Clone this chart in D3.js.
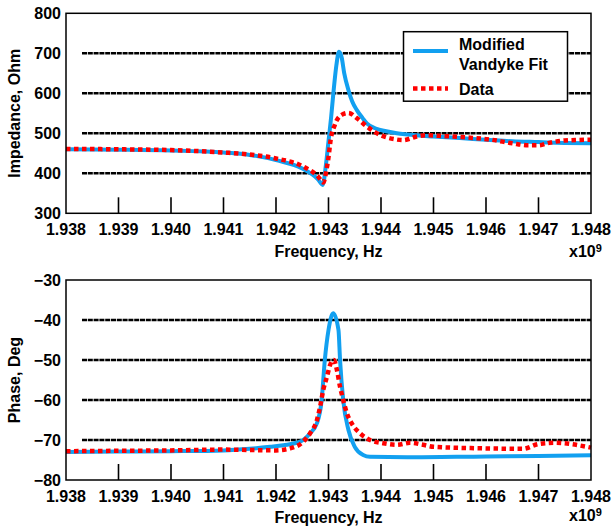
<!DOCTYPE html>
<html><head><meta charset="utf-8">
<script src="https://cdn.jsdelivr.net/npm/d3@7"></script>
<style>body{margin:0;background:#fff}svg{display:block}text{font-family:"Liberation Sans",Arial,sans-serif;font-weight:bold}</style>
</head><body>
<script>
// ---------- data ----------
const xTicks = [1.938,1.939,1.940,1.941,1.942,1.943,1.944,1.945,1.946,1.947,1.948];
const impTicks = [300,400,500,600,700,800];
const phaseTicks = [-80,-70,-60,-50,-40,-30];
const impGrid = [400,500,600,700];
const phaseGrid = [-70,-60,-50,-40];
const seriesNames = ["Modified\nVandyke Fit","Data"];

// impedance: Modified Vandyke fit
const impFitF = [1.938,1.939,1.940,1.941,1.9415,1.942,1.9425,1.9428,1.94289,1.94295,1.9430,1.94305,1.9431,1.94315,1.9432,1.94325,1.9433,1.94338,1.94345,1.94354,1.94365,1.94373,1.9439,1.9441,1.9443,1.9445,1.945,1.9455,1.946,1.9465,1.947,1.9475,1.948];
const impFitV = [460,459,457,452,446,433,412,385,371,420,480,540,610,670,704,690,650,608,580,558,538,525,512,505,500,497,492,488,484,480,478,476,475];
// impedance: measured data
const impDatF = [1.938,1.939,1.940,1.941,1.9415,1.942,1.9425,1.9428,1.94290,1.94296,1.94300,1.94304,1.94312,1.94325,1.94338,1.94354,1.94373,1.94398,1.94427,1.94442,1.94468,1.94487,1.9452,1.9457,1.9461,1.9465,1.9468,1.9470,1.9472,1.9475,1.948];
const impDatV = [461,460,458,452,447,437,418,392,377,408,440,483,521,546,551,538,517,496,485,483,492,495,493,489,484,475,470,470,476,482,484];

// phase: Modified Vandyke fit
const phFitF = [1.938,1.939,1.940,1.941,1.9415,1.94189,1.94214,1.94246,1.94265,1.94278,1.94287,1.94293,1.94300,1.94309,1.94319,1.94322,1.94328,1.94338,1.94350,1.94366,1.94379,1.9445,1.946,1.947,1.948];
const phFitV = [-73,-72.9,-72.8,-72.6,-72.2,-71.7,-71.3,-70.4,-68.3,-65.8,-60,-50,-42.5,-38.3,-42.5,-50,-60,-67.5,-71.7,-73.75,-74.2,-74.3,-74.1,-74,-73.8];
// phase: measured data
const phDatF = [1.938,1.939,1.940,1.941,1.9415,1.942,1.94227,1.94252,1.94265,1.94278,1.94284,1.94290,1.94297,1.94303,1.94310,1.94316,1.94322,1.94328,1.94335,1.94344,1.94360,1.94379,1.94404,1.94430,1.94455,1.9448,1.945,1.946,1.9467,1.947,1.9473,1.948];
const phDatV = [-72.8,-72.7,-72.6,-72.4,-72.5,-72.6,-72.1,-70.4,-68.3,-65,-61.7,-57.5,-54.2,-51.25,-50,-52.5,-56.7,-60,-63.3,-65.8,-68.3,-70,-70.8,-71.2,-70.7,-71.2,-71.7,-72.1,-72.2,-71,-70.7,-71.9];

// ---------- drawing ----------
const W = 614, H = 531;
const svg = d3.select("body").append("svg").attr("width", W).attr("height", H);
const BLUE = "#12a0f0", RED = "#ff0000";
const plotLeft = 66, plotRight = 591;

function panel(cfg) {
  const x = d3.scaleLinear().domain([1.938, 1.948]).range([plotLeft, plotRight]);
  const y = d3.scaleLinear().domain(cfg.domain).range([cfg.bottom, cfg.top]);
  const g = svg.append("g");

  g.selectAll(".grid").data(cfg.grid).enter().append("line")
    .attr("x1", plotLeft + 16).attr("x2", plotRight)
    .attr("y1", d => y(d)).attr("y2", d => y(d))
    .attr("stroke", "#000").attr("stroke-width", 2.6).attr("stroke-dasharray", "5,0.8");

  g.selectAll(".xt").data(xTicks.slice(1, -1)).enter().append("line")
    .attr("x1", d => x(d)).attr("x2", d => x(d))
    .attr("y1", cfg.bottom).attr("y2", cfg.bottom - 16)
    .attr("stroke", "#000").attr("stroke-width", 1.6);

  g.selectAll(".xl").data(xTicks).enter().append("text")
    .attr("x", d => x(d)).attr("y", cfg.bottom + cfg.tickDy)
    .attr("text-anchor", "middle").attr("font-size", 16)
    .text(d => d3.format(".3f")(d));
  g.selectAll(".yl").data(cfg.ticks).enter().append("text")
    .attr("x", 61).attr("y", d => y(d) + 6)
    .attr("text-anchor", "end").attr("font-size", 16)
    .text(d => d < 0 ? "\u2212" + Math.abs(d) : d);

  g.append("text").attr("x", (plotLeft + plotRight) / 2).attr("y", cfg.bottom + cfg.titleDy)
    .attr("text-anchor", "middle").attr("font-size", 16).text("Frequency, Hz");
  const xe = g.append("text").attr("x", 569).attr("y", cfg.bottom + cfg.expDy).attr("font-size", 16);
  xe.append("tspan").text("x10");
  xe.append("tspan").attr("dy", -5).attr("font-size", 11).text("9");
  g.append("text").attr("transform", `translate(19.5,${(cfg.top + cfg.bottom) / 2}) rotate(-90)`)
    .attr("text-anchor", "middle").attr("font-size", 16).text(cfg.ylabel);

  const line = d3.line().x(d => x(d[0])).y(d => y(d[1])).curve(d3.curveMonotoneX);
  g.append("path").datum(d3.zip(cfg.fitF, cfg.fitV)).attr("d", line)
    .attr("fill", "none").attr("stroke", BLUE).attr("stroke-width", 4).attr("stroke-linejoin", "round");
  g.append("path").datum(d3.zip(cfg.datF, cfg.datV)).attr("d", line)
    .attr("fill", "none").attr("stroke", RED).attr("stroke-width", 4.5).attr("stroke-dasharray", "4.5,3.5");

  g.append("rect").attr("x", plotLeft).attr("y", cfg.top).attr("width", plotRight - plotLeft).attr("height", cfg.bottom - cfg.top)
    .attr("fill", "none").attr("stroke", "#000").attr("stroke-width", 1.5);
  return g;
}

panel({domain: [300, 800], top: 13.3, bottom: 213.3, grid: impGrid, ticks: impTicks,
  ylabel: "Impedance, Ohm", fitF: impFitF, fitV: impFitV, datF: impDatF, datV: impDatV,
  tickDy: 22, titleDy: 44, expDy: 44});
panel({domain: [-80, -30], top: 280, bottom: 480, grid: phaseGrid, ticks: phaseTicks,
  ylabel: "Phase, Deg", fitF: phFitF, fitV: phFitV, datF: phDatF, datV: phDatV,
  tickDy: 22, titleDy: 43, expDy: 41});

const lg = svg.append("g");
lg.append("rect").attr("x", 403.5).attr("y", 31.7).attr("width", 164).attr("height", 69.5)
  .attr("fill", "#fff").attr("stroke", "#000").attr("stroke-width", 1.5);
lg.append("line").attr("x1", 413).attr("x2", 448).attr("y1", 51).attr("y2", 51)
  .attr("stroke", BLUE).attr("stroke-width", 4);
lg.append("line").attr("x1", 413).attr("x2", 448).attr("y1", 88.5).attr("y2", 88.5)
  .attr("stroke", RED).attr("stroke-width", 4.5).attr("stroke-dasharray", "4.5,3.5");
const l1 = seriesNames[0].split("\n");
lg.append("text").attr("x", 459).attr("y", 50).attr("font-size", 16).text(l1[0]);
lg.append("text").attr("x", 459).attr("y", 69.5).attr("font-size", 16).text(l1[1]);
lg.append("text").attr("x", 459).attr("y", 94.5).attr("font-size", 16).text(seriesNames[1]);
</script>
</body></html>
